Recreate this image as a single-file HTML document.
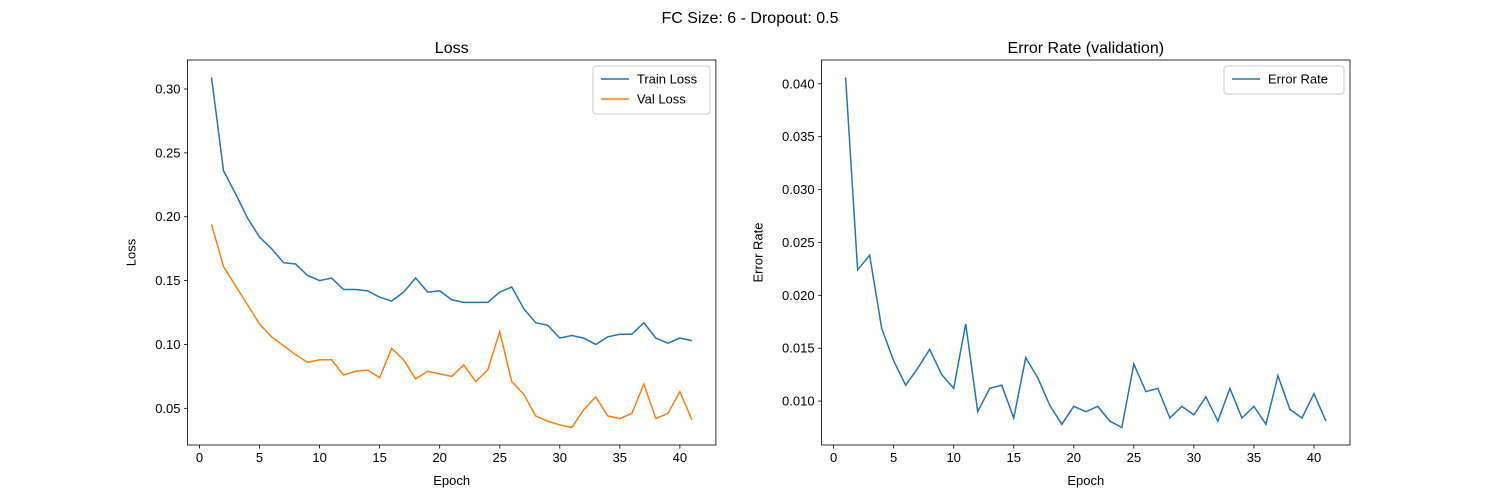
<!DOCTYPE html>
<html><head><meta charset="utf-8"><style>
body{margin:0;background:#fff}
svg{display:block;font-family:"Liberation Sans","DejaVu Sans",sans-serif}
</style></head><body>
<svg id="fig" width="1500" height="500" xmlns="http://www.w3.org/2000/svg">
<rect width="1500" height="500" fill="#fff"/>
<text x="750" y="23" text-anchor="middle" font-size="16">FC Size: 6 - Dropout: 0.5</text>
</svg>
<script>
const trainLoss=[.309,.236,.218,.199,.184,.175,.164,.163,.154,.150,.152,.143,.143,.142,.137,.134,.141,.152,.141,.142,.135,.133,.133,.133,.141,.145,.128,.117,.115,.105,.107,.105,.100,.106,.108,.108,.117,.105,.101,.105,.103];
const valLoss=[.194,.161,.146,.131,.116,.106,.099,.092,.086,.088,.088,.076,.079,.080,.074,.097,.088,.073,.079,.077,.075,.084,.071,.080,.110,.071,.061,.044,.040,.037,.035,.049,.059,.044,.042,.046,.069,.042,.046,.063,.041];
const errRate=[.0406,.0224,.0238,.0169,.0138,.0115,.0131,.0149,.0125,.0112,.0173,.0090,.0112,.0115,.0084,.0141,.0122,.0096,.0078,.0095,.0090,.0095,.0081,.0075,.0135,.0109,.0112,.0084,.0095,.0087,.0104,.0081,.0112,.0084,.0095,.0078,.0124,.0092,.0084,.0107,.0081];
const xTicks=[0,5,10,15,20,25,30,35,40];
const lossTicks=[0.05,0.10,0.15,0.20,0.25,0.30];
const errTicks=[0.010,0.015,0.020,0.025,0.030,0.035,0.040];
const NS="http://www.w3.org/2000/svg";
const svg=document.getElementById('fig');
function el(t,a,p){const e=document.createElementNS(NS,t);for(const k in a)e.setAttribute(k,a[k]);(p||svg).appendChild(e);return e;}
function panel(x0,title,ylabel,series,colors,names,yTicks,dec,legW,prefix,ylOff){
 const x1=x0+528.4,y0=60,y1=445;
 const all=series.flat();const mn=Math.min(...all),mx=Math.max(...all),pad=(mx-mn)*0.05;
 const ymin=mn-pad,ymax=mx+pad;const n=series[0].length;
 const xmin=1-(n-1)*0.05,xmax=n+(n-1)*0.05;
 const X=v=>x0+(v-xmin)/(xmax-xmin)*(x1-x0);
 const Y=v=>y1-(v-ymin)/(ymax-ymin)*(y1-y0);
 const g=el('g',{});
 
 
 xTicks.forEach(t=>{const x=X(t);el('line',{x1:x,x2:x,y1:y1,y2:y1+3.5,stroke:'#000','stroke-width':0.8},g);
  const tx=el('text',{x:x,y:y1+17,'text-anchor':'middle','font-size':13},g);tx.textContent=t;
  
  });
 yTicks.forEach(t=>{const y=Y(t);el('line',{x1:x0-3.5,x2:x0,y1:y,y2:y,stroke:'#000','stroke-width':0.8},g);
  const tx=el('text',{x:x0-7,y:y+4.5,'text-anchor':'end','font-size':13},g);tx.textContent=t.toFixed(dec);
  
  });
 series.forEach((s,i)=>{const p=el('polyline',{points:s.map((v,j)=>X(j+1)+','+Y(v)).join(' '),fill:'none',stroke:colors[i],'stroke-width':1.5},g);
  
  });
 el('rect',{x:x0,y:y0,width:x1-x0,height:y1-y0,fill:'none',stroke:'#000','stroke-width':0.8},g);
 const tt=el('text',{x:(x0+x1)/2,y:y0-7,'text-anchor':'middle','font-size':16},g);tt.textContent=title;
 
 
 const xl=el('text',{x:(x0+x1)/2,y:485,'text-anchor':'middle','font-size':13},g);xl.textContent='Epoch';
 
 
 const yl=el('text',{x:0,y:0,'text-anchor':'middle','font-size':13,transform:`translate(${x0-ylOff},${(y0+y1)/2}) rotate(-90)`},g);yl.textContent=ylabel;
 
 
 const lg=el('g',{},g);
 
 
 const lh=8+names.length*20;
 el('rect',{x:x1-6-legW,y:y0+6,width:legW,height:lh,fill:'#fff',stroke:'#ccc',rx:3},lg);
 names.forEach((nm,i)=>{const yy=y0+19+i*20;
  el('line',{x1:x1-6-legW+8,x2:x1-6-legW+36,y1:yy,y2:yy,stroke:colors[i],'stroke-width':1.5},lg);
  const t=el('text',{x:x1-6-legW+44,y:yy+4.5,'font-size':13},lg);t.textContent=nm;
  
  });
}
panel(187.5,'Loss','Loss',[trainLoss,valLoss],['#1f77b4','#ff7f0e'],['Train Loss','Val Loss'],lossTicks,2,117,'loss',52);
panel(821.6,'Error Rate (validation)','Error Rate',[errRate],['#1f77b4'],['Error Rate'],errTicks,3,120,'error',59);
</script>
</body></html>
